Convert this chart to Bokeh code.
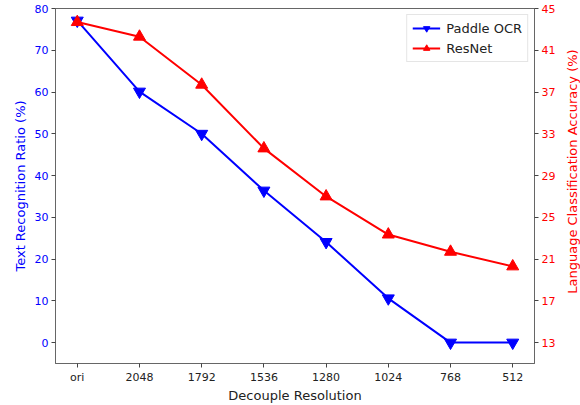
import math
from bokeh.plotting import figure
from bokeh.layouts import row
from bokeh.models import LinearAxis, Range1d, FixedTicker, Legend, LegendItem, Label
from bokeh.embed import file_html
from bokeh.resources import INLINE

categories = ["ori", "2048", "1792", "1536", "1280", "1024", "768", "512"]
paddle_ocr = [77.1, 60.1, 50.0, 36.4, 24.1, 10.6, 0.0, 0.0]
resnet = [43.7, 42.3, 37.7, 31.6, 27.0, 23.35, 21.7, 20.3]
left_ticks = [0, 10, 20, 30, 40, 50, 60, 70, 80]
right_ticks = [13, 17, 21, 25, 29, 33, 37, 41, 45]
right_label_text = "Language Classification Accuracy (%)"

FONT = "DejaVu Sans"
xs = list(range(len(categories)))
H = 405
TOP, BOTTOM = 8, 39

p = figure(width=558, height=H, output_backend="svg", toolbar_location=None,
           x_range=Range1d(-0.35, len(categories) - 1 + 0.35),
           y_range=Range1d(-5, 80),
           min_border_left=55, min_border_right=24, min_border_top=TOP, min_border_bottom=BOTTOM)
p.extra_y_ranges = {"right": Range1d(11, 45)}

p.grid.visible = False
p.outline_line_color = "#666666"
p.outline_line_width = 1
p.background_fill_color = "white"
p.border_fill_color = "white"


def style(ax, color_lbl, color_ticks):
    ax.axis_label_text_color = color_lbl
    ax.major_label_text_color = color_ticks
    ax.axis_label_text_font = FONT
    ax.axis_label_text_font_style = "normal"
    ax.axis_label_text_font_size = "13px"
    ax.major_label_text_font = FONT
    ax.major_label_text_font_size = "11px"
    ax.minor_tick_line_color = None
    ax.major_tick_in = 0
    ax.major_tick_out = 4
    ax.axis_line_color = "#666666"
    ax.major_tick_line_color = "#444444"
    ax.major_label_standoff = 3


# left axis
ya = p.yaxis[0]
ya.ticker = FixedTicker(ticks=left_ticks)
ya.axis_label = "Text Recognition Ratio (%)"
style(ya, "blue", "blue")
ya.axis_label_standoff = 4

# bottom axis
xa = p.xaxis[0]
xa.ticker = FixedTicker(ticks=xs)
xa.major_label_overrides = {i: c for i, c in enumerate(categories)}
xa.axis_label = "Decouple Resolution"
style(xa, "#222222", "#222222")
xa.major_label_standoff = 3
xa.axis_label_standoff = 1

# right axis (its title, reading bottom-to-top, sits in the strip beside)
ra = LinearAxis(y_range_name="right", ticker=FixedTicker(ticks=right_ticks))
style(ra, "red", "red")
p.add_layout(ra, "right")

l1 = p.line(xs, paddle_ocr, line_color="blue", line_width=2)
s1 = p.scatter(xs, paddle_ocr, marker="inverted_triangle", size=12,
               fill_color="blue", line_color="blue")
l2 = p.line(xs, resnet, line_color="red", line_width=2, y_range_name="right")
s2 = p.scatter(xs, resnet, marker="triangle", size=12,
               fill_color="red", line_color="red", y_range_name="right")

legend = Legend(items=[LegendItem(label="Paddle OCR", renderers=[l1, s1]),
                       LegendItem(label="ResNet", renderers=[l2, s2])],
                location="top_right")
legend.label_text_font = FONT
legend.label_text_font_size = "13px"
legend.label_text_color = "#222222"
legend.glyph_width = 28
legend.glyph_height = 16
legend.label_standoff = 6
legend.spacing = 4
legend.padding = 5
legend.margin = 6
legend.border_line_color = "#cccccc"
legend.background_fill_alpha = 0.9
p.add_layout(legend)

# narrow strip holding the right axis title
SW = 22
q = figure(width=SW, height=H, output_backend="svg", toolbar_location=None,
           x_range=Range1d(0, SW), y_range=Range1d(0, H),
           min_border=0, min_border_left=0, min_border_right=0,
           min_border_top=0, min_border_bottom=0)
q.axis.visible = False
q.grid.visible = False
q.outline_line_color = None
q.background_fill_color = "white"
q.border_fill_color = "white"
q.add_layout(Label(x=SW / 2 + 3, y=H - 186, text=right_label_text, angle=math.pi / 2,
                   text_align="center", text_baseline="middle",
                   text_font=FONT, text_font_size="13px", text_color="red"))

layout = row(p, q)
open("out.html", "w").write(file_html(layout, INLINE))
